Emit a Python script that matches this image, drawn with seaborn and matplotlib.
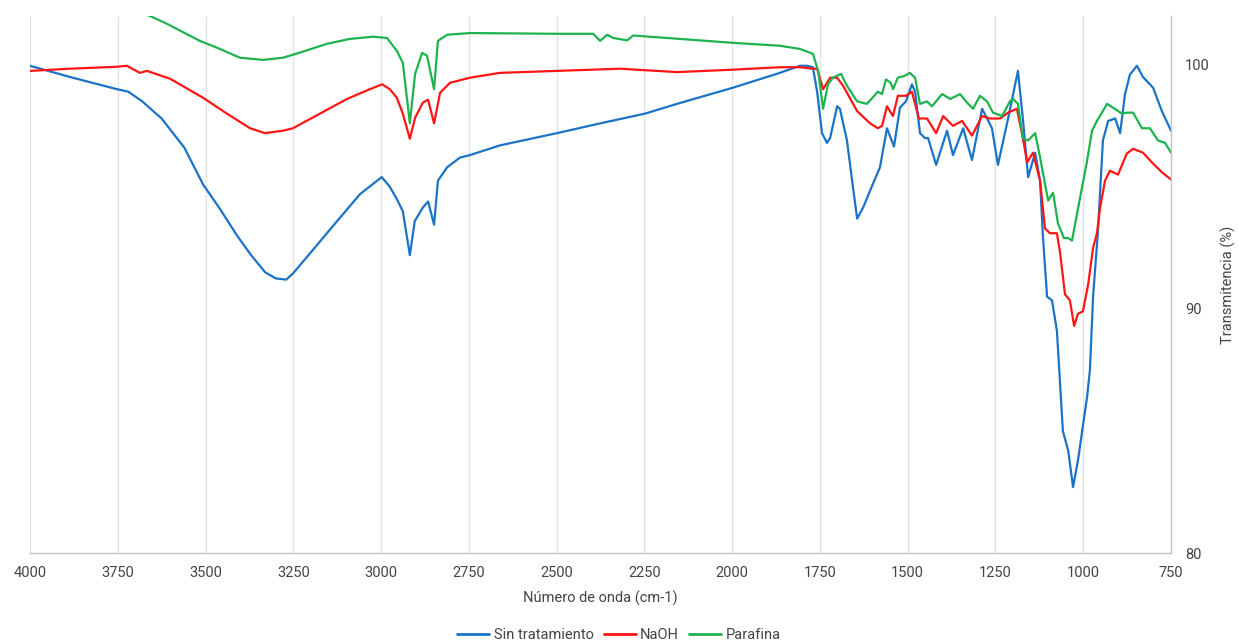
import numpy as np
import pandas as pd
import matplotlib
matplotlib.use("Agg")
import matplotlib.pyplot as plt
import seaborn as sns

# -----------------------------
# DATA
# -----------------------------
series_names = ["Sin tratamiento", "NaOH", "Parafina"]
colors = ["#1a73c6", "#ff1515", "#1db34f"]

sin_wn = [4000, 3886, 3752, 3720, 3680, 3625, 3560, 3507, 3459, 3410, 3370, 3330, 3300,
          3270, 3251, 3195, 3125, 3060, 2998, 2975, 2955, 2938, 2918, 2904, 2881, 2866,
          2849, 2838, 2812, 2775, 2747, 2661, 2499, 2376, 2248, 2157, 1998, 1864, 1807,
          1787, 1770, 1758, 1744, 1730, 1721, 1701, 1693, 1673, 1656, 1644, 1627, 1607,
          1579, 1559, 1539, 1522, 1505, 1488, 1479, 1465, 1451, 1442, 1419, 1388, 1371,
          1342, 1317, 1288, 1260, 1243, 1214, 1186, 1172, 1157, 1137, 1123, 1115, 1103,
          1089, 1075, 1058, 1043, 1029, 1015, 989, 981, 972, 958, 944, 929, 909, 895,
          881, 867, 847, 830, 801, 776, 750]
sin_t = [99.96, 99.5, 99.0, 98.9, 98.5, 97.8, 96.6, 95.1, 94.1, 93.0, 92.2, 91.5, 91.25,
         91.2, 91.45, 92.4, 93.6, 94.7, 95.4, 95.0, 94.5, 94.0, 92.2, 93.6, 94.15, 94.4,
         93.45, 95.25, 95.8, 96.2, 96.3, 96.7, 97.2, 97.6, 98.0, 98.4, 99.06, 99.67, 99.96,
         99.96, 99.9, 98.9, 97.2, 96.8, 97.0, 98.3, 98.2, 96.9, 95.0, 93.7, 94.15, 94.85,
         95.8, 97.4, 96.65, 98.25, 98.5, 99.2, 98.9, 97.2, 97.0, 97.0, 95.9, 97.3, 96.3,
         97.4, 96.1, 98.2, 97.4, 95.9, 97.8, 99.75, 97.8, 95.4, 96.4, 95.25, 93.0, 90.5,
         90.35, 89.1, 85.0, 84.2, 82.7, 83.8, 86.4, 87.5, 90.5, 93.2, 96.9, 97.7, 97.8,
         97.2, 98.8, 99.6, 99.96, 99.5, 99.06, 98.1, 97.3]

naoh_wn = [4000, 3886, 3752, 3724, 3687, 3667, 3601, 3507, 3439, 3373, 3331, 3279, 3251,
           3174, 3097, 3032, 2997, 2975, 2955, 2938, 2918, 2903, 2881, 2866, 2849, 2832,
           2804, 2747, 2661, 2499, 2319, 2157, 1998, 1864, 1807, 1770, 1758, 1741, 1721,
           1701, 1684, 1644, 1607, 1585, 1573, 1559, 1542, 1528, 1505, 1488, 1468, 1445,
           1419, 1399, 1371, 1345, 1317, 1288, 1266, 1237, 1214, 1189, 1172, 1160, 1143,
           1123, 1109, 1095, 1075, 1066, 1052, 1038, 1026, 1015, 1001, 986, 972, 961, 952,
           938, 924, 901, 876, 858, 830, 801, 776, 750]
naoh_t = [99.75, 99.84, 99.92, 99.96, 99.67, 99.75, 99.43, 98.65, 98.0, 97.4, 97.2, 97.3,
          97.4, 98.0, 98.6, 99.0, 99.2, 99.0, 98.65, 98.0, 96.97, 97.83, 98.45, 98.57,
          97.6, 98.85, 99.26, 99.47, 99.67, 99.75, 99.84, 99.7, 99.8, 99.9, 99.9, 99.84,
          99.84, 99.0, 99.47, 99.47, 99.14, 98.1, 97.6, 97.4, 97.5, 98.3, 97.9, 98.73,
          98.73, 98.9, 97.8, 97.8, 97.2, 97.9, 97.5, 97.7, 97.1, 97.9, 97.8, 97.8, 98.04,
          98.2, 97.0, 96.0, 96.4, 95.25, 93.3, 93.1, 93.1, 92.3, 90.6, 90.35, 89.3, 89.8,
          89.9, 91.0, 92.5, 93.1, 94.15, 95.25, 95.66, 95.5, 96.36, 96.56, 96.4, 95.95,
          95.6, 95.3]

par_wn = [3720, 3658, 3610, 3516, 3459, 3402, 3336, 3279, 3231, 3154, 3089, 3023, 2983,
          2955, 2938, 2918, 2903, 2883, 2869, 2849, 2838, 2812, 2747, 2499, 2396, 2376,
          2356, 2339, 2299, 2282, 2149, 1998, 1864, 1807, 1770, 1755, 1741, 1727, 1713,
          1690, 1673, 1644, 1616, 1585, 1573, 1562, 1548, 1542, 1528, 1508, 1494, 1479,
          1465, 1445, 1431, 1402, 1379, 1351, 1331, 1314, 1294, 1274, 1257, 1231, 1209,
          1200, 1186, 1172, 1157, 1137, 1123, 1100, 1086, 1072, 1055, 1043, 1032, 1009,
          989, 975, 961, 932, 915, 890, 875, 858, 833, 810, 787, 767, 750]
par_t = [102.3, 102.0, 101.68, 100.98, 100.65, 100.29, 100.2, 100.29, 100.5, 100.86,
         101.06, 101.15, 101.1, 100.57, 100.08, 97.6, 99.63, 100.49, 100.37, 99.0, 100.98,
         101.23, 101.3, 101.27, 101.27, 100.98, 101.23, 101.1, 101.0, 101.2, 101.06, 100.9,
         100.78, 100.65, 100.45, 99.75, 98.2, 99.2, 99.47, 99.63, 99.14, 98.5, 98.4, 98.9,
         98.8, 99.4, 99.26, 99.0, 99.47, 99.55, 99.67, 99.47, 98.4, 98.5, 98.3, 98.8, 98.6,
         98.8, 98.45, 98.2, 98.73, 98.5, 98.04, 97.9, 98.5, 98.6, 98.4, 97.0, 96.9, 97.2,
         96.2, 94.44, 94.76, 93.5, 92.9, 92.9, 92.8, 94.56, 96.07, 97.3, 97.7, 98.4, 98.24,
         98.0, 98.04, 98.04, 97.4, 97.4, 96.9, 96.8, 96.4]

x_ticks = [4000, 3750, 3500, 3250, 3000, 2750, 2500, 2250, 2000, 1750, 1500, 1250, 1000, 750]
y_ticks = [80, 90, 100]

# -----------------------------
# LONG TABLE FOR SEABORN
# -----------------------------
df = pd.concat([
    pd.DataFrame({"wn": sin_wn, "T": sin_t, "serie": series_names[0]}),
    pd.DataFrame({"wn": naoh_wn, "T": naoh_t, "serie": series_names[1]}),
    pd.DataFrame({"wn": par_wn, "T": par_t, "serie": series_names[2]}),
])

sns.set_style("white")
plt.rcParams["font.family"] = ["Roboto", "DejaVu Sans"]

fig = plt.figure(figsize=(12.38, 6.44), dpi=100)
ax = fig.add_axes([0.0242, 0.1413, 0.9217, 0.8339])

sns.lineplot(data=df, x="wn", y="T", hue="serie", hue_order=series_names,
             palette=colors, estimator=None, linewidth=1.6, ax=ax, legend=False)

ax.set_xlim(4000, 750)
ax.set_ylim(80, 102)
ax.set_xticks(x_ticks)
ax.set_yticks(y_ticks)
ax.yaxis.tick_right()
ax.yaxis.set_label_position("right")
ax.tick_params(axis="both", length=0, labelsize=10.5, colors="#444444")
ax.tick_params(axis="x", pad=9)
ax.tick_params(axis="y", pad=10)
ax.grid(axis="x", color="#e3e3e3", linewidth=1)
ax.grid(axis="y", visible=False)

for side in ["top", "left"]:
    ax.spines[side].set_visible(False)
for side in ["bottom", "right"]:
    ax.spines[side].set_color("#c4c4c4")
    ax.spines[side].set_linewidth(1)

ax.set_xlabel("Número de onda (cm-1)", fontsize=10.5, color="#444444", labelpad=8)
ax.set_ylabel("Transmitencia (%)", fontsize=10.5, color="#444444", labelpad=8)

handles = [plt.Line2D([], [], color=c, linewidth=2) for c in colors]
fig.legend(handles, series_names, loc="lower center", bbox_to_anchor=(0.5, -0.018),
           ncol=3, frameon=False, fontsize=10.5, handlelength=2.2,
           handletextpad=0.3, columnspacing=0.7, labelcolor="#444444")

plt.savefig("out.png", dpi=100)
